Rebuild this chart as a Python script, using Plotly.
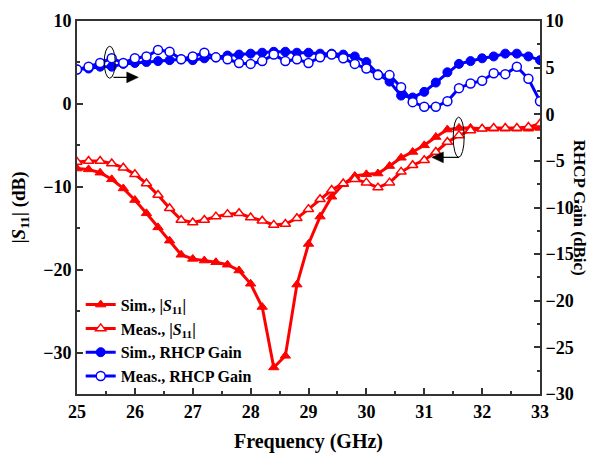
import plotly.graph_objects as go

freq = [25.0, 25.2, 25.4, 25.6, 25.8, 26.0, 26.2, 26.4, 26.6, 26.8,
        27.0, 27.2, 27.4, 27.6, 27.8, 28.0, 28.2, 28.4, 28.6, 28.8,
        29.0, 29.2, 29.4, 29.6, 29.8, 30.0, 30.2, 30.4, 30.6, 30.8,
        31.0, 31.2, 31.4, 31.6, 31.8, 32.0, 32.2, 32.4, 32.6, 32.8, 33.0]

sim_s11 = [-7.8, -7.9, -8.3, -9.1, -10.2, -11.6, -13.2, -14.9, -16.5, -18.2,
           -18.7, -18.9, -19.1, -19.4, -20.1, -21.7, -24.5, -31.8, -30.4, -21.8,
           -16.9, -13.6, -11.2, -9.7, -8.7, -8.5, -8.4, -7.5, -6.5, -5.8,
           -5.0, -4.0, -3.1, -2.9, -2.9, -3.0, -3.0, -3.0, -3.0, -3.0, -2.9]

meas_s11 = [-7.0, -6.9, -6.9, -7.2, -7.7, -8.5, -9.6, -11.0, -12.6, -14.0,
            -14.3, -14.0, -13.6, -13.3, -13.2, -13.7, -14.1, -14.6, -14.5, -13.8,
            -12.7, -11.5, -10.4, -9.6, -9.1, -9.5, -10.1, -9.5, -8.2, -7.4,
            -6.8, -5.8, -4.6, -3.8, -3.2, -3.0, -2.9, -2.9, -2.9, -2.8, -2.4]

sim_gain = [4.8, 4.9, 5.1, 5.1, 5.4, 5.5, 5.6, 5.7, 5.8, 5.9,
            5.8, 6.0, 6.1, 6.3, 6.4, 6.5, 6.6, 6.7, 6.7, 6.6,
            6.6, 6.5, 6.5, 6.4, 6.2, 5.6, 4.3, 3.5, 2.0, 1.8,
            2.4, 3.4, 4.5, 5.4, 5.7, 6.0, 6.2, 6.5, 6.5, 6.2, 5.8]

meas_gain = [4.8, 5.1, 5.5, 6.0, 5.5, 6.0, 6.2, 6.9, 6.7, 5.9,
             6.2, 6.6, 6.1, 5.9, 5.5, 5.4, 5.7, 6.4, 5.7, 5.9,
             5.5, 6.1, 6.4, 6.0, 5.4, 4.9, 4.2, 4.2, 2.9, 1.3,
             0.8, 0.8, 1.4, 2.8, 3.3, 3.6, 4.4, 4.3, 5.1, 3.8, 1.4]

names = ["<b>Sim., |<i>S</i><sub>11</sub>|</b>",
         "<b>Meas., |<i>S</i><sub>11</sub>|</b>",
         "<b>Sim., RHCP Gain</b>",
         "<b>Meas., RHCP Gain</b>"]

RED = "#FF0000"
BLUE = "#0000FF"
FONT = "Liberation Serif"

fig = go.Figure()
fig.add_trace(go.Scatter(x=freq, y=sim_s11, name=names[0], mode="lines+markers",
                         line=dict(color=RED, width=3),
                         marker=dict(symbol="triangle-up", size=9, color=RED,
                                     line=dict(color=RED, width=1))))
fig.add_trace(go.Scatter(x=freq, y=meas_s11, name=names[1], mode="lines+markers",
                         line=dict(color=RED, width=3),
                         marker=dict(symbol="triangle-up", size=9, color="white",
                                     line=dict(color=RED, width=1.5))))
fig.add_trace(go.Scatter(x=freq, y=sim_gain, name=names[2], mode="lines+markers",
                         yaxis="y2", line=dict(color=BLUE, width=3),
                         marker=dict(symbol="circle", size=9, color=BLUE,
                                     line=dict(color=BLUE, width=1))))
fig.add_trace(go.Scatter(x=freq, y=meas_gain, name=names[3], mode="lines+markers",
                         yaxis="y2", line=dict(color=BLUE, width=3),
                         marker=dict(symbol="circle", size=9, color="white",
                                     line=dict(color=BLUE, width=1.5))))

axis_common = dict(showline=True, linecolor="#333333", linewidth=2,
                   ticks="inside", ticklen=6, tickwidth=1.5, tickcolor="#333333",
                   showgrid=False, zeroline=False, automargin=False,
                   tickfont=dict(family=FONT, size=18, color="black", weight="bold"))

# the page body adds an 8px offset; margins compensate so the plot area
# lands at x 77..540, y 21..394 in the window
fig.update_layout(
    width=595, height=454,
    margin=dict(l=69, r=63, t=13, b=68),
    paper_bgcolor="white", plot_bgcolor="white",
    font=dict(family=FONT, color="black"),
    showlegend=True,
    legend=dict(x=0.008, y=0.285, xanchor="left", yanchor="top",
                bgcolor="rgba(0,0,0,0)", borderwidth=0,
                font=dict(family=FONT, size=16, color="black"),
                tracegroupgap=0, itemwidth=30),
    xaxis=dict(range=[25, 33], dtick=1, mirror=True,
               minor=dict(dtick=0.5, ticks="inside", ticklen=3, tickcolor="#333333"),
               title=dict(text="<b>Frequency (GHz)</b>", standoff=13,
                          font=dict(family=FONT, size=20, color="black")),
               **axis_common),
    yaxis=dict(range=[-35, 10], tickvals=[-30, -20, -10, 0, 10],
               minor=dict(tickvals=[-25, -15, -5, 5], ticks="inside", ticklen=3,
                          tickcolor="#333333"),
               title=dict(text="<b>|<i>S</i><sub>11</sub>| (dB)</b>", standoff=15,
                          font=dict(family=FONT, size=19, color="black")),
               **axis_common),
    yaxis2=dict(range=[-30, 10], dtick=5, overlaying="y", side="right",
                minor=dict(dtick=2.5, ticks="inside", ticklen=3, tickcolor="#333333"),
                **axis_common),
)

# right axis title as a rotated text placed just outside the tick labels
fig.add_annotation(text="<b>RHCP Gain (dBic)</b>", xref="paper", yref="paper",
                   x=1.086, y=0.5, xanchor="center", yanchor="middle",
                   textangle=90, showarrow=False,
                   font=dict(family=FONT, size=17, color="black"))

# ellipse + arrow annotations (drawn as shapes)
fig.add_shape(type="circle", xref="x", yref="y", x0=25.47, x1=25.66, y0=3.1, y1=6.95,
              line=dict(color="black", width=1))
fig.add_shape(type="line", xref="x", yref="y", x0=25.63, x1=25.9, y0=3.2, y1=3.2,
              line=dict(color="black", width=1.2))
fig.add_shape(type="path", xref="x", yref="y",
              path="M 26.06 3.2 L 25.86 3.85 L 25.86 2.55 Z",
              fillcolor="black", line=dict(color="black", width=0.5))
fig.add_shape(type="circle", xref="x", yref="y", x0=31.5, x1=31.69, y0=-6.45, y1=-1.6,
              line=dict(color="black", width=1))
fig.add_shape(type="line", xref="x", yref="y", x0=31.3, x1=31.6, y0=-6.45, y1=-6.45,
              line=dict(color="black", width=1.2))
fig.add_shape(type="path", xref="x", yref="y",
              path="M 31.13 -6.45 L 31.33 -5.8 L 31.33 -7.1 Z",
              fillcolor="black", line=dict(color="black", width=0.5))

fig.write_html("out.html")
